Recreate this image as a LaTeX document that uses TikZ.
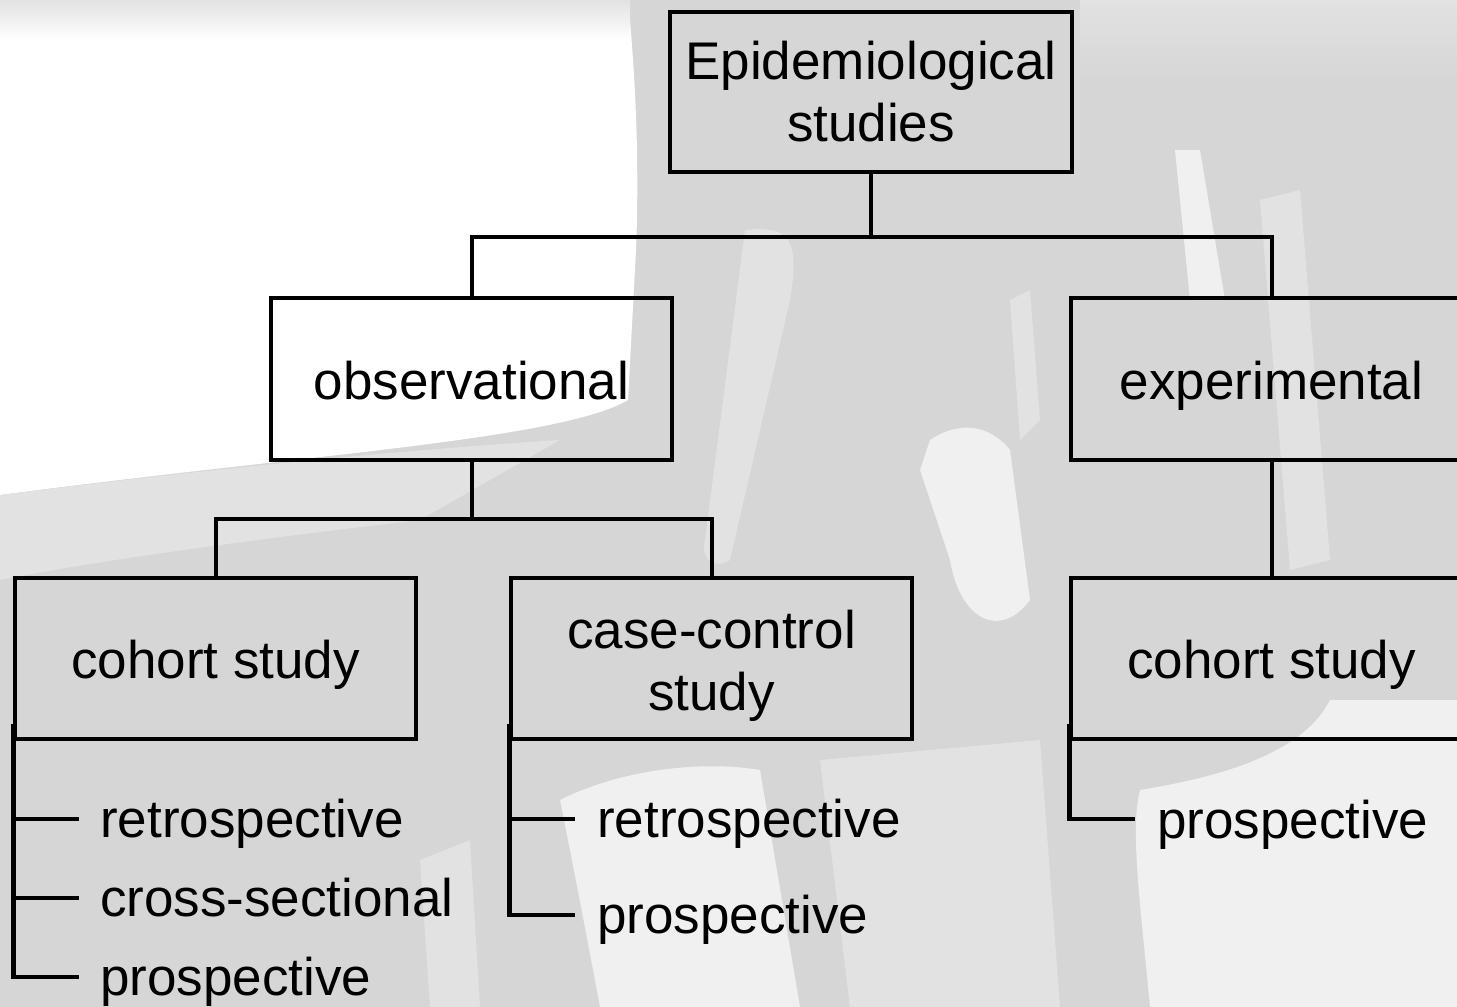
\documentclass[tikz,border=0pt]{standalone}
\usepackage{fontspec}
\setmainfont{Liberation Sans}
\definecolor{bgg}{RGB}{214,214,214}
\definecolor{bgl}{RGB}{226,226,226}
\definecolor{bgw}{RGB}{240,240,240}
\begin{document}
\begin{tikzpicture}[x=1pt,y=-1pt,
  box/.style={draw=black,line width=4pt,rectangle,inner sep=0pt,
    minimum width=401pt,minimum height=161pt,align=center,
    font=\fontsize{53}{62}\selectfont},
  oneline/.style={text height=48pt,text depth=8pt},
  conn/.style={draw=black,line width=4pt},
  branch/.style={draw=black,line width=5pt},
  tick/.style={draw=black,line width=4pt},
  leaf/.style={anchor=base west,inner sep=0pt,font=\fontsize{53}{62}\selectfont}]
\useasboundingbox (0,0) rectangle (1457,1007);
\clip (0,0) rectangle (1457,1007);
% ---- background photo approximation ----
\fill[bgg] (0,0) rectangle (1457,1007);
% bright upper-left area
\fill[white] (0,0) -- (628,0) .. controls (634,60) and (640,150) .. (636,250)
  -- (628,400) .. controls (560,440) and (300,455) .. (0,495) -- cycle;
\shade[top color=bgl,bottom color=white] (0,0) rectangle (630,40);
\fill[bgl] (0,495) .. controls (200,470) and (400,450) .. (560,440) -- (420,520) .. controls (250,540) and (100,560) .. (0,580) -- cycle;
% top right lighter band
\shade[top color=bgl,bottom color=bgg] (1080,0) rectangle (1457,80);
% light streaks of the device
\fill[bgl] (745,230) .. controls (790,225) and (800,240) .. (790,300) -- (730,560) .. controls (715,570) and (700,560) .. (705,540) -- cycle;
\fill[bgw] (1175,150) -- (1200,150) -- (1225,300) -- (1190,300) -- cycle;
\fill[bgl] (1260,200) -- (1300,190) -- (1330,560) -- (1290,570) -- cycle;
\fill[bgw] (930,440) .. controls (960,420) and (990,425) .. (1010,450) -- (1030,600) .. controls (1000,640) and (960,620) .. (950,560) -- (920,470) -- cycle;
\fill[bgl] (1010,300) -- (1030,290) -- (1040,420) -- (1020,440) -- cycle;
% bottom centre light areas
\fill[bgw] (560,800) .. controls (620,770) and (700,760) .. (760,770) -- (800,1007) -- (600,1007) .. controls (580,900) and (570,850) .. (560,800) -- cycle;
\fill[bgl] (420,860) -- (470,840) -- (480,1007) -- (430,1007) -- cycle;
\fill[bgl] (820,760) -- (1040,740) -- (1060,1007) -- (850,1007) -- cycle;
% bottom right white
\fill[bgw] (1330,700) -- (1457,700) -- (1457,1007) -- (1150,1007)
  .. controls (1140,900) and (1130,830) .. (1140,790) .. controls (1200,780) and (1300,760) .. (1330,700) -- cycle;
% ---- boxes ----
\node[box,minimum width=402pt,minimum height=160pt] (top) at (871,92) {Epidemiological\\studies};
\node[box,oneline,minimum height=162pt] (obs) at (471.5,379) {observational};
\node[box,oneline,minimum height=162pt] (exp) at (1271.5,379) {experimental};
\node[box,oneline] (coh) at (215.5,658.5) {cohort study};
\node[box] (cc) at (711.5,658.5) {\rule{0pt}{52pt}case-control\\study};
\node[box,oneline] (ecoh) at (1271.5,658.5) {cohort study};
% ---- tree connectors ----
\coordinate (j1) at (871,237);
\coordinate (j2) at (471.5,519);
\draw[conn] (top.south) -- (j1);
\draw[conn] (obs.north) |- (j1) -| (exp.north);
\draw[conn] (obs.south) -- (j2);
\draw[conn] (coh.north) |- (j2) -| (cc.north);
\draw[conn] (exp.south) -- (ecoh.north);
% ---- leaves: cohort study ----
\coordinate (a1) at (79,819);
\coordinate (a2) at (79,898);
\coordinate (a3) at (79,977);
\node[leaf] (la1) at (100,837) {retrospective};
\node[leaf] (la2) at (100,916) {cross-sectional};
\node[leaf] (la3) at (100,995) {prospective};
\draw[branch] ([yshift=17pt]coh.south west) -- ([yshift=-2pt]coh.south west |- a3);
\draw[tick] (coh.south west |- a1) -- (a1);
\draw[tick] (coh.south west |- a2) -- (a2);
\draw[tick] ([xshift=-2.5pt]coh.south west |- a3) -- (a3);
% ---- leaves: case-control ----
\coordinate (b1) at (575,819);
\coordinate (b2) at (575,915);
\node[leaf] (lb1) at (597,837) {retrospective};
\node[leaf] (lb2) at (597,933) {prospective};
\draw[branch] ([yshift=17pt]cc.south west) -- ([yshift=-2pt]cc.south west |- b2);
\draw[tick] (cc.south west |- b1) -- (b1);
\draw[tick] ([xshift=-2.5pt]cc.south west |- b2) -- (b2);
% ---- leaves: experimental cohort ----
\coordinate (c1) at (1135,819);
\node[leaf] (lc1) at (1157,838) {prospective};
\draw[branch] ([yshift=17pt]ecoh.south west) -- ([yshift=-2pt]ecoh.south west |- c1);
\draw[tick] ([xshift=-2.5pt]ecoh.south west |- c1) -- (c1);
\end{tikzpicture}
\end{document}
